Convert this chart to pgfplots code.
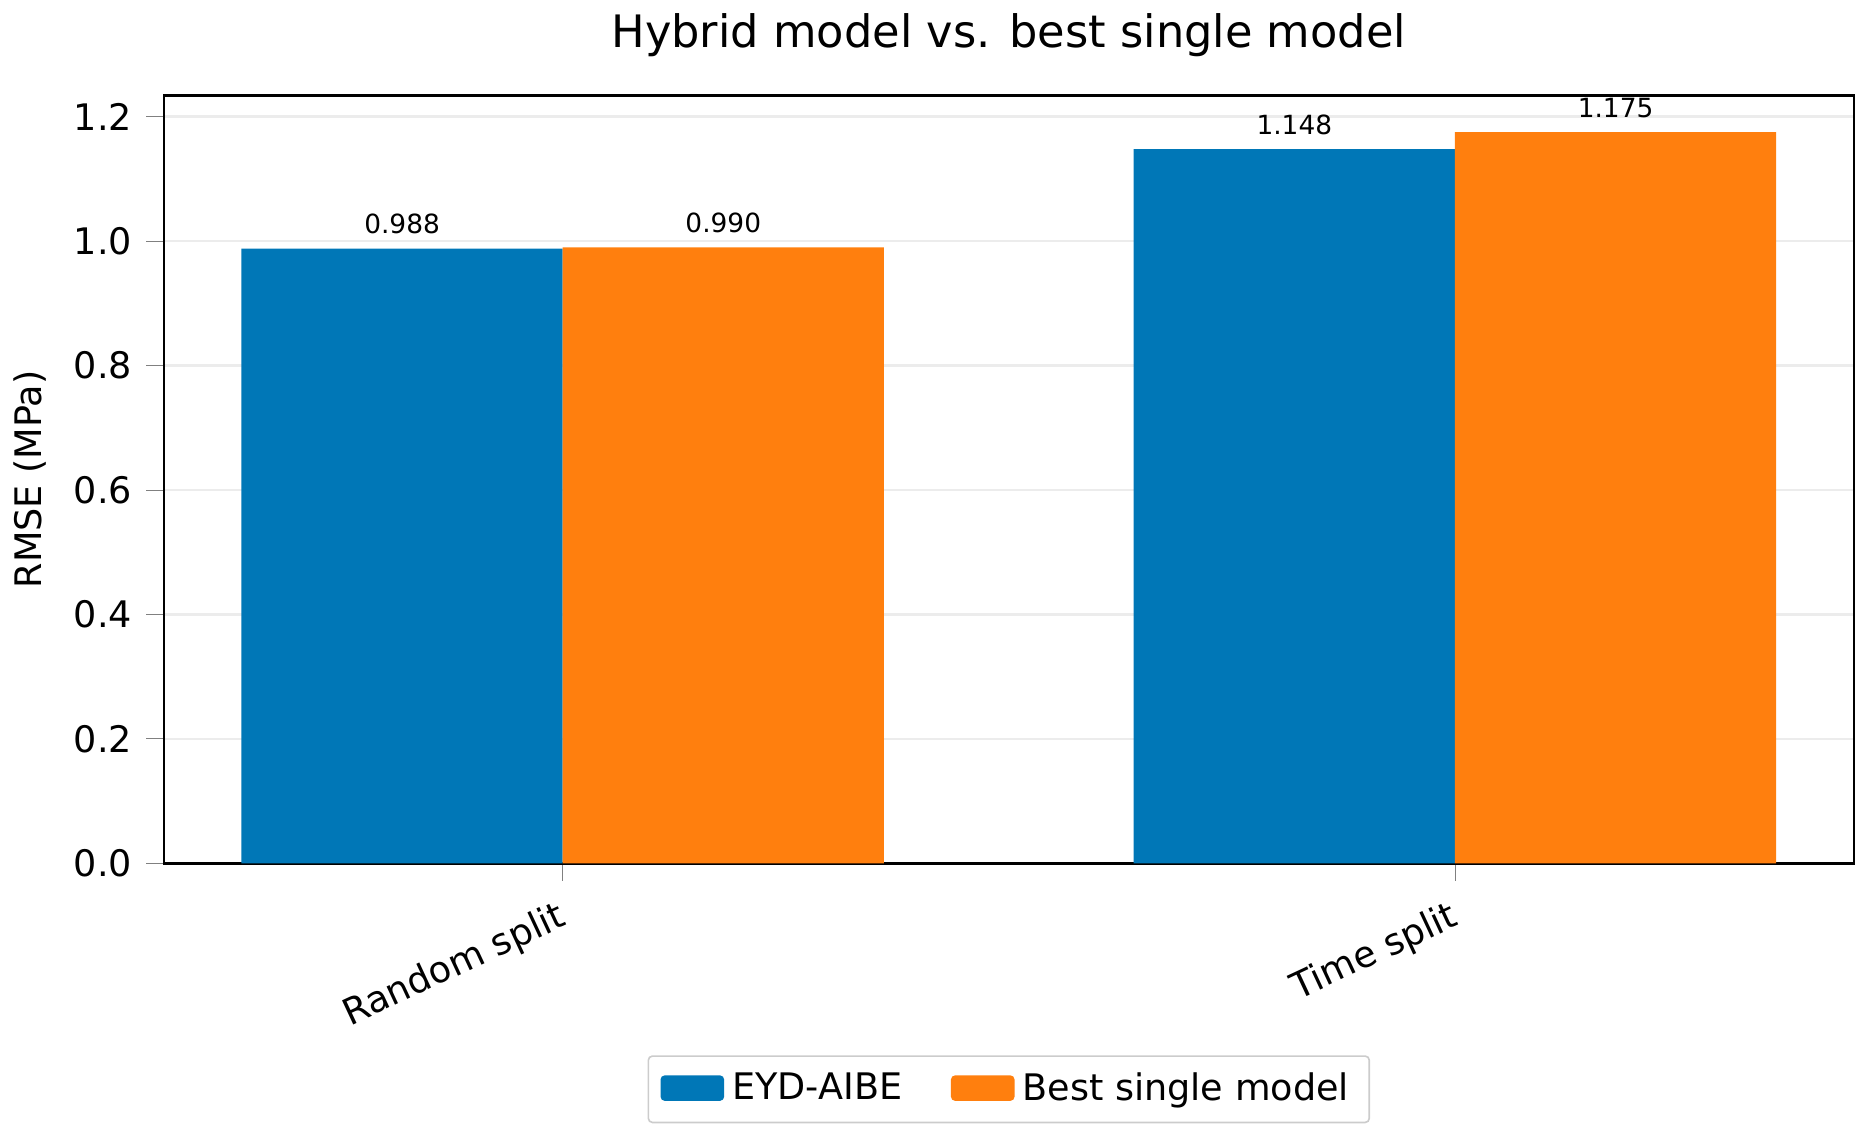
\documentclass[border=0pt]{standalone}
\usepackage{pgfplots}
\pgfplotsset{compat=1.18}
\usepackage{fontspec}
\setmainfont{DejaVu Sans}
\definecolor{cblue}{HTML}{0077B7}
\definecolor{corange}{HTML}{FF7F0E}
\begin{document}
\begin{tikzpicture}
\begin{axis}[
  width=416pt, height=189pt, scale only axis,
  xmin=-0.447, xmax=1.447, ymin=0, ymax=1.234,
  ybar, bar width=0.36,
  xtick={0,1}, xticklabels={Random split, Time split},
  xticklabel style={rotate=25, anchor=north east, font=\fontsize{9}{10}\selectfont},
  ytick={0,0.2,...,1.2},
  yticklabel style={/pgf/number format/fixed, /pgf/number format/fixed zerofill, /pgf/number format/precision=1, font=\fontsize{9}{10}\selectfont},
  /pgf/number format/assume math mode=true,
  ymajorgrids, grid style={gray!15, line width=0.6pt},
  ylabel={RMSE (MPa)}, ylabel style={font=\fontsize{9}{10}\selectfont},
  title={Hybrid model vs. best single model}, title style={font=\fontsize{11}{12}\selectfont},
  axis line style={line width=0.6pt},
  tick align=outside, xtick pos=bottom, ytick pos=left,
  nodes near coords, nodes near coords style={font=\fontsize{6.5}{7}\selectfont, /pgf/number format/fixed, /pgf/number format/fixed zerofill, /pgf/number format/precision=3},
  legend style={at={(0.5,-0.25)}, anchor=north, legend columns=2, font=\fontsize{9}{10}\selectfont, draw=gray!40, rounded corners=1pt, /tikz/every even column/.append style={column sep=10pt}},
  legend image code/.code={\fill[#1] (0cm,-0.1cm) rectangle (0.55cm,0.12cm);},
]
\addplot[fill=cblue, draw=none, bar shift=-0.18] coordinates {(0,0.988) (1,1.148)};
\addplot[fill=corange, draw=none, bar shift=0.18] coordinates {(0,0.990) (1,1.175)};
\legend{EYD-AIBE, Best single model}
\end{axis}
\end{tikzpicture}
\end{document}
